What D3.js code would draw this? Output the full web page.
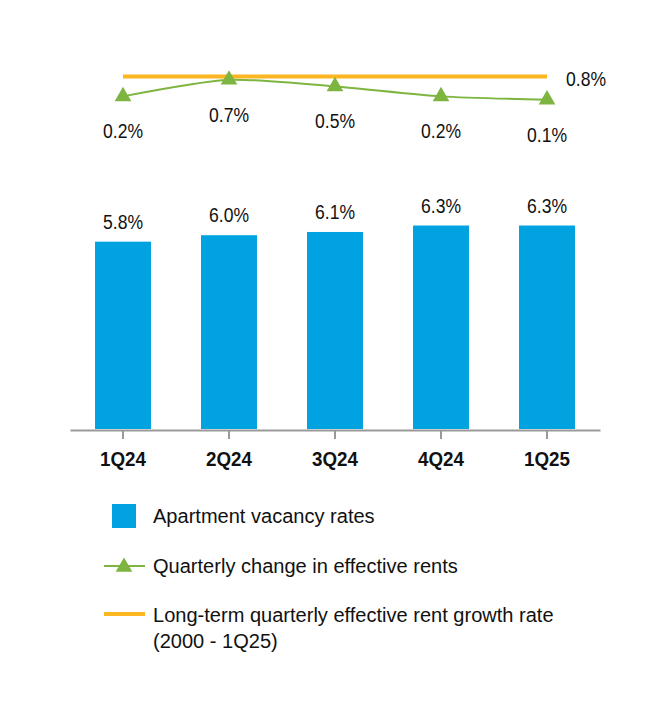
<!DOCTYPE html>
<html>
<head>
<meta charset="utf-8">
<script src="https://cdn.jsdelivr.net/npm/d3@7"></script>
<style>
    body { margin: 0; background: #fff; }
    svg { display: block; }
    text { font-family: "Liberation Sans", Arial, sans-serif; fill: #111; }
</style>
</head>
<body>
<div id="chart"></div>
<script>
// Chart data
const quarters = ['1Q24', '2Q24', '3Q24', '4Q24', '1Q25'];
const vacancyRates = [5.8, 6.0, 6.1, 6.3, 6.3];
const rentChange = [0.2, 0.7, 0.5, 0.2, 0.1];
const longTermGrowth = 0.8;
const legendLabels = [
    'Apartment vacancy rates',
    'Quarterly change in effective rents',
    'Long-term quarterly effective rent growth rate',
    '(2000 - 1Q25)'
];

// Colours
const BLUE = '#00a3e0';
const GREEN = '#7db540';
const ORANGE = '#fbb622';

const width = 670;
const height = 728;

// The original uses a condensed face, so squeeze Liberation Sans horizontally
function squeeze(sel, sx) {
    sel.each(function () {
        const t = d3.select(this);
        const tx = +t.attr('x') || 0;
        const ty = +t.attr('y') || 0;
        t.attr('x', null).attr('y', null)
            .attr('transform', `translate(${tx},${ty}) scale(${sx},1)`);
    });
}

const svg = d3.select('#chart')
    .append('svg')
    .attr('width', width)
    .attr('height', height)
    .attr('viewBox', `0 0 ${width} ${height}`);

// Scales
const x = d3.scaleBand()
    .domain(quarters)
    .range([70, 600])
    .paddingInner(0.472)
    .paddingOuter(0.236);

const yBar = d3.scaleLinear().domain([0, 10]).range([429, 106]);
const yLine = d3.scaleLinear().domain([0, 0.8]).range([103, 76.5]);

const cx = q => x(q) + x.bandwidth() / 2;

// Bars
svg.append('g')
    .selectAll('rect')
    .data(vacancyRates)
    .join('rect')
    .attr('x', (d, i) => x(quarters[i]))
    .attr('y', d => yBar(d))
    .attr('width', x.bandwidth())
    .attr('height', d => yBar(0) - yBar(d))
    .attr('fill', BLUE);

// Bar value labels
svg.append('g')
    .selectAll('text')
    .data(vacancyRates)
    .join('text')
    .attr('x', (d, i) => cx(quarters[i]))
    .attr('y', d => yBar(d) - 13)
    .attr('text-anchor', 'middle')
    .attr('font-size', 19.5)
    .text(d => d.toFixed(1) + '%')
    .call(squeeze, 0.9);

// X axis
const xAxis = svg.append('g')
    .attr('transform', `translate(0,${yBar(0) + 1})`)
    .call(d3.axisBottom(x).tickSize(9).tickPadding(12).tickSizeOuter(0));

xAxis.select('.domain')
    .attr('stroke', '#999')
    .attr('stroke-width', 2);
xAxis.selectAll('.tick line')
    .attr('stroke', '#999')
    .attr('stroke-width', 2);
xAxis.selectAll('.tick text')
    .attr('font-size', 21)
    .attr('font-weight', 'bold')
    .attr('fill', '#111')
    .attr('font-family', null)
    .attr('transform', 'scale(0.895,1)');

// Long-term growth line
svg.append('line')
    .attr('x1', cx(quarters[0]))
    .attr('x2', cx(quarters[quarters.length - 1]))
    .attr('y1', yLine(longTermGrowth))
    .attr('y2', yLine(longTermGrowth))
    .attr('stroke', ORANGE)
    .attr('stroke-width', 4);

svg.append('text')
    .attr('x', cx(quarters[quarters.length - 1]) + 19)
    .attr('y', yLine(longTermGrowth) + 9)
    .attr('font-size', 19.5)
    .text(longTermGrowth.toFixed(1) + '%')
    .call(squeeze, 0.9);

// Quarterly change line
const line = d3.line()
    .x((d, i) => cx(quarters[i]))
    .y(d => yLine(d))
    .curve(d3.curveCardinal.tension(0.3));

svg.append('path')
    .datum(rentChange)
    .attr('d', line)
    .attr('fill', 'none')
    .attr('stroke', GREEN)
    .attr('stroke-width', 2);

const triangle = d3.symbol().type(d3.symbolTriangle).size(120);

svg.append('g')
    .selectAll('path')
    .data(rentChange)
    .join('path')
    .attr('d', triangle)
    .attr('transform', (d, i) => `translate(${cx(quarters[i])},${yLine(d)})`)
    .attr('fill', GREEN);

svg.append('g')
    .selectAll('text')
    .data(rentChange)
    .join('text')
    .attr('x', (d, i) => cx(quarters[i]))
    .attr('y', d => yLine(d) + 42)
    .attr('text-anchor', 'middle')
    .attr('font-size', 19.5)
    .text(d => d.toFixed(1) + '%')
    .call(squeeze, 0.9);

// Legend
const legend = svg.append('g').attr('font-size', 21);

legend.append('rect')
    .attr('x', 112).attr('y', 504)
    .attr('width', 24).attr('height', 24)
    .attr('fill', BLUE);

legend.append('line')
    .attr('x1', 104).attr('x2', 145)
    .attr('y1', 566).attr('y2', 566)
    .attr('stroke', GREEN).attr('stroke-width', 2);

legend.append('path')
    .attr('d', triangle)
    .attr('transform', 'translate(124,567)')
    .attr('fill', GREEN);

legend.append('line')
    .attr('x1', 104).attr('x2', 145)
    .attr('y1', 614).attr('y2', 614)
    .attr('stroke', ORANGE).attr('stroke-width', 4);

const legendY = [523, 573, 622, 648];
legend.selectAll('text')
    .data(legendLabels)
    .join('text')
    .attr('x', 153)
    .attr('y', (d, i) => legendY[i])
    .text(d => d)
    .call(squeeze, 0.955);
</script>
</body>
</html>
